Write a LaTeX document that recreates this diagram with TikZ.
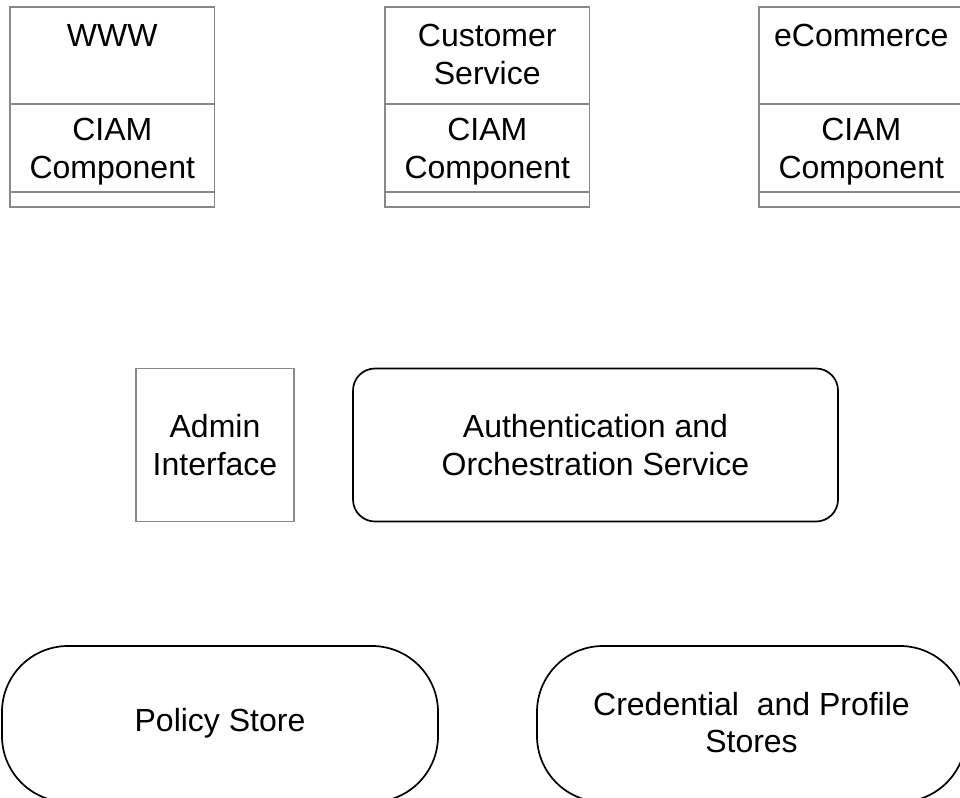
\documentclass[tikz,border=0pt]{standalone}
\usepackage{fontspec}
\setmainfont{Liberation Sans}
\usetikzlibrary{calc}
\definecolor{boxgray}{RGB}{136,136,136}
\begin{document}
\begin{tikzpicture}[x=1pt,y=-1pt,
  every node/.style={font=\fontsize{32}{37.5}\selectfont, align=center, inner sep=0pt, outer sep=0pt},
  classbox/.style={draw=boxgray, line width=1.5pt, minimum width=204.5pt, minimum height=200pt, anchor=north west},
  grayline/.style={draw=boxgray, line width=1.5pt},
  graybox/.style={draw=boxgray, line width=1.5pt},
  roundbox/.style={draw=black, line width=1.7pt, rounded corners=22pt},
  pill/.style={draw=black, line width=1.7pt, rounded corners=66pt}
]
\useasboundingbox (0,0) rectangle (960,797);

% top class boxes
\node[classbox] (www) at (10,7) {};
\node[classbox] (cs) at (385,7) {};
\node[classbox] (ec) at (759,7) {};

\foreach \b in {www,cs,ec}{
  \draw[grayline] ($(\b.north west)+(0,97)$) -- ($(\b.north east)+(0,97)$);
  \draw[grayline] ($(\b.north west)+(0,185)$) -- ($(\b.north east)+(0,185)$);
}

\node[anchor=north] (wwwT) at ($(www.north)+(0,17)$) {WWW};
\node[anchor=north] (csT) at ($(cs.north)+(0,17.5)$) {Customer\\Service};
\node[anchor=north] (ecT) at ($(ec.north)+(0,17)$) {eCommerce};

\node (wwwC) at ($(www.north)+(0,144.5)$) {CIAM\\Component};
\node (csC) at ($(cs.north)+(0,144.5)$) {CIAM\\Component};
\node (ecC) at ($(ec.north)+(0,144.5)$) {CIAM\\Component};

% middle row
\node[graybox, minimum width=158pt, minimum height=153pt] (admin) at (215,445) {Admin\\Interface};
\node[roundbox, minimum width=485pt, minimum height=153pt] (auth) at (595.5,445) {Authentication and\\Orchestration Service};

% bottom row
\node[pill, minimum width=436pt, minimum height=156pt] (policy) at (220,724) {};
\node (policyT) at (220,723.5) {Policy Store};
\node[pill, minimum width=429pt, minimum height=156pt] (cred) at (751.5,724) {};
\node (credT) at (751.5,722.5) {Credential\ \ and Profile\\Stores};
\end{tikzpicture}
\end{document}
